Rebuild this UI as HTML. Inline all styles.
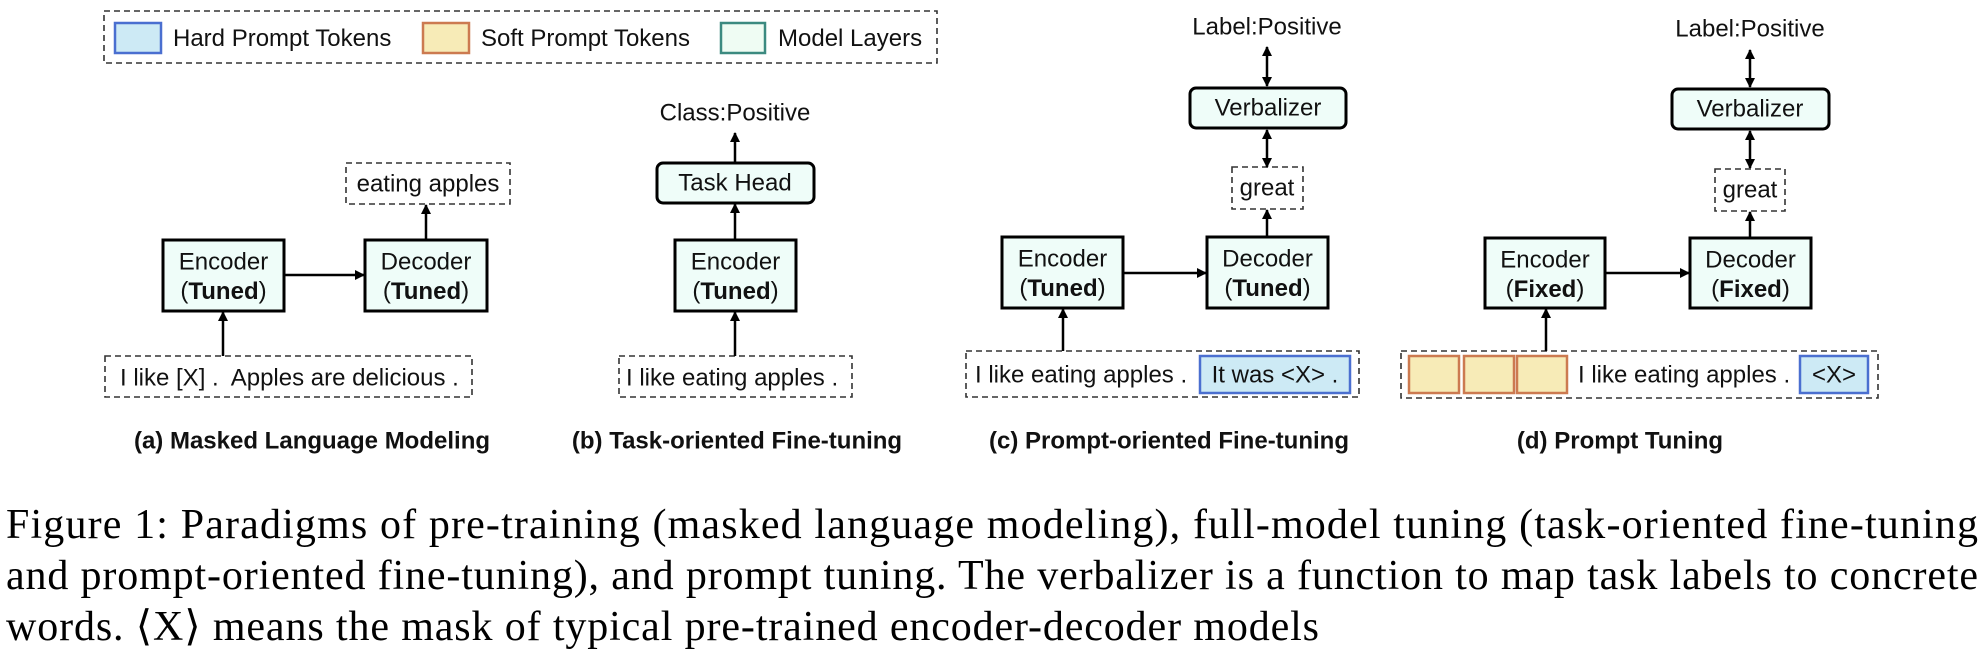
<!DOCTYPE html>
<html><head><meta charset="utf-8"><style>
html,body{margin:0;padding:0;background:#fff;}
svg{display:block}
.s{font-family:"Liberation Sans",Arial,sans-serif;font-size:24px;fill:#111}
.b{font-weight:bold}
.cap{font-family:"Liberation Serif","Times New Roman",serif;font-size:42px;fill:#000}
</style></head><body>
<svg width="1988" height="656" viewBox="0 0 1988 656" xmlns="http://www.w3.org/2000/svg">
<defs>
<marker id="ah" markerWidth="10" markerHeight="10" refX="9" refY="5" orient="auto-start-reverse" markerUnits="userSpaceOnUse">
<path d="M0,0 L10,5 L0,10 z" fill="#000"/></marker>
</defs>
<g fill="none" stroke="#333" stroke-width="1.6" stroke-dasharray="6 4">
<rect x="104" y="11" width="833" height="52"/>
<rect x="346" y="163" width="164" height="41"/>
<rect x="105" y="356" width="367" height="41"/>
<rect x="619" y="356" width="233" height="41"/>
<rect x="1232" y="167" width="71" height="42"/>
<rect x="966" y="351" width="393" height="46"/>
<rect x="1715" y="169" width="70" height="42"/>
<rect x="1401" y="351" width="477" height="47"/>
</g>
<rect x="115" y="23" width="46" height="30" fill="#cdeaf5" stroke="#4a6fd0" stroke-width="2.5"/>
<rect x="423" y="23" width="46" height="30" fill="#f7ebb7" stroke="#cc7a50" stroke-width="2.5"/>
<rect x="721" y="23" width="44" height="30" fill="#effcf3" stroke="#3c8a80" stroke-width="2.5"/>
<text class="s" x="173" y="46">Hard Prompt Tokens</text>
<text class="s" x="481" y="46">Soft Prompt Tokens</text>
<text class="s" x="778" y="46">Model Layers</text>
<g fill="#effdf9" stroke="#000" stroke-width="3">
<rect x="163" y="240" width="121" height="71"/>
<rect x="365" y="240" width="122" height="71"/>
<rect x="657" y="163" width="157" height="40" rx="6"/>
<rect x="675" y="240" width="121" height="71"/>
<rect x="1190" y="88" width="156" height="40" rx="6"/>
<rect x="1002" y="237" width="121" height="71"/>
<rect x="1207" y="237" width="121" height="71"/>
<rect x="1672" y="89" width="157" height="40" rx="6"/>
<rect x="1485" y="238" width="120" height="70"/>
<rect x="1690" y="238" width="121" height="70"/>
</g>
<rect x="1200" y="356" width="150" height="37" fill="#cdeaf5" stroke="#4a6fd0" stroke-width="2.5"/>
<rect x="1800" y="356" width="68" height="37" fill="#cdeaf5" stroke="#4a6fd0" stroke-width="2.5"/>
<g fill="#f7ebb7" stroke="#cc7a50" stroke-width="2.5">
<rect x="1409" y="356" width="50" height="37"/>
<rect x="1464" y="356" width="50" height="37"/>
<rect x="1517" y="356" width="50" height="37"/>
</g>
<g stroke="#000" stroke-width="2.5" fill="none">
<line x1="284" y1="275" x2="364" y2="275" marker-end="url(#ah)"/>
<line x1="426" y1="240" x2="426" y2="205" marker-end="url(#ah)"/>
<line x1="223" y1="356" x2="223" y2="312" marker-end="url(#ah)"/>
<line x1="735" y1="163" x2="735" y2="133" marker-end="url(#ah)"/>
<line x1="735" y1="240" x2="735" y2="204" marker-end="url(#ah)"/>
<line x1="735" y1="356" x2="735" y2="312" marker-end="url(#ah)"/>
<line x1="1267" y1="47" x2="1267" y2="86" marker-start="url(#ah)" marker-end="url(#ah)"/>
<line x1="1267" y1="130" x2="1267" y2="167" marker-start="url(#ah)" marker-end="url(#ah)"/>
<line x1="1267" y1="237" x2="1267" y2="210" marker-end="url(#ah)"/>
<line x1="1123" y1="273" x2="1206" y2="273" marker-end="url(#ah)"/>
<line x1="1063" y1="351" x2="1063" y2="309" marker-end="url(#ah)"/>
<line x1="1750" y1="50" x2="1750" y2="87" marker-start="url(#ah)" marker-end="url(#ah)"/>
<line x1="1750" y1="131" x2="1750" y2="168" marker-start="url(#ah)" marker-end="url(#ah)"/>
<line x1="1750" y1="238" x2="1750" y2="212" marker-end="url(#ah)"/>
<line x1="1605" y1="273" x2="1689" y2="273" marker-end="url(#ah)"/>
<line x1="1546" y1="351" x2="1546" y2="309" marker-end="url(#ah)"/>
</g>
<g class="s" text-anchor="middle" dominant-baseline="central">
<text x="428" y="184">eating apples</text>
<text x="223.5" y="262">Encoder</text><text x="223.5" y="291">(<tspan class="b">Tuned</tspan>)</text>
<text x="426" y="262">Decoder</text><text x="426" y="291">(<tspan class="b">Tuned</tspan>)</text>
<text x="735" y="113">Class:Positive</text>
<text x="735" y="183">Task Head</text>
<text x="735.5" y="262">Encoder</text><text x="735.5" y="291">(<tspan class="b">Tuned</tspan>)</text>
<text x="1267" y="27">Label:Positive</text>
<text x="1268" y="108">Verbalizer</text>
<text x="1267" y="188">great</text>
<text x="1062.5" y="259">Encoder</text><text x="1062.5" y="288">(<tspan class="b">Tuned</tspan>)</text>
<text x="1267.5" y="259">Decoder</text><text x="1267.5" y="288">(<tspan class="b">Tuned</tspan>)</text>
<text x="1750" y="29">Label:Positive</text>
<text x="1750" y="109">Verbalizer</text>
<text x="1750" y="190">great</text>
<text x="1545" y="260">Encoder</text><text x="1545" y="289">(<tspan class="b">Fixed</tspan>)</text>
<text x="1750.5" y="260">Decoder</text><text x="1750.5" y="289">(<tspan class="b">Fixed</tspan>)</text>
<text x="1275" y="375">It was &lt;X&gt; .</text>
<text x="1834" y="375">&lt;X&gt;</text>
</g>
<g class="s" dominant-baseline="central">
<text x="120" y="378" xml:space="preserve">I like [X] .  Apples are delicious .</text>
<text x="626" y="378">I like eating apples .</text>
<text x="975" y="375">I like eating apples .</text>
<text x="1578" y="375">I like eating apples .</text>
</g>
<g class="s b" text-anchor="middle" dominant-baseline="central">
<text x="312" y="441">(a) Masked Language Modeling</text>
<text x="737" y="441">(b) Task-oriented Fine-tuning</text>
<text x="1169" y="441">(c) Prompt-oriented Fine-tuning</text>
<text x="1620" y="441">(d) Prompt Tuning</text>
</g>
<text class="cap" x="6" y="538" textLength="1972" lengthAdjust="spacing">Figure 1: Paradigms of pre-training (masked language modeling), full-model tuning (task-oriented fine-tuning</text>
<text class="cap" x="6" y="589" textLength="1972" lengthAdjust="spacing">and prompt-oriented fine-tuning), and prompt tuning. The verbalizer is a function to map task labels to concrete</text>
<text class="cap" x="6" y="640" textLength="1313" lengthAdjust="spacing">words. ⟨X⟩ means the mask of typical pre-trained encoder-decoder models</text>
</svg>
</body></html>
